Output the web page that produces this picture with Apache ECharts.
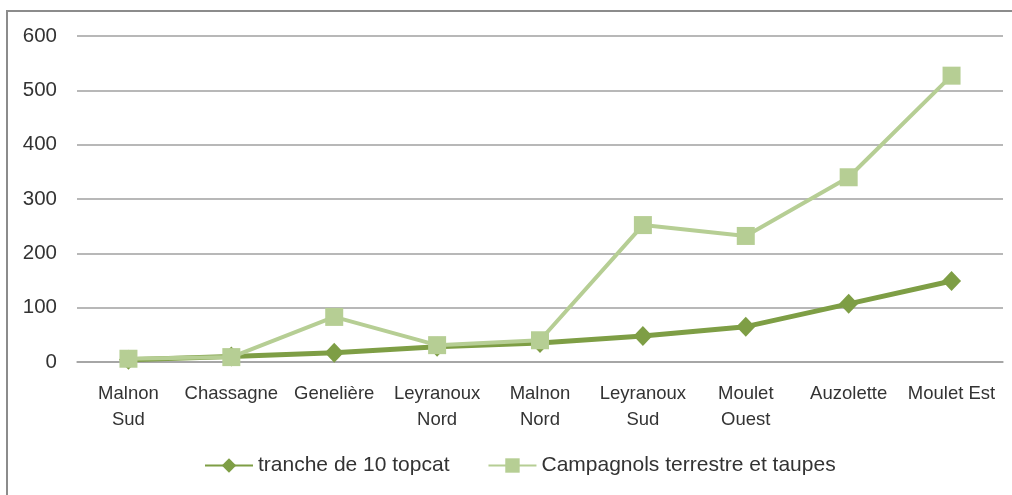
<!DOCTYPE html>
<html>
<head>
<meta charset="utf-8">
<script src="https://cdn.jsdelivr.net/npm/echarts@6/dist/echarts.min.js"></script>
<style>html,body{margin:0;padding:0;background:#fff;}#c{width:1012px;height:495px;}</style>
</head>
<body>
<div id="c"></div>
<script>
const categories = ['Malnon Sud', 'Chassagne', 'Genelière', 'Leyranoux Nord', 'Malnon Nord', 'Leyranoux Sud', 'Moulet Ouest', 'Auzolette', 'Moulet Est'];
const topcat = [4, 10, 17, 28, 35, 48, 65, 107, 149];
const campagnols = [6, 9, 83, 31, 40, 252, 232, 340, 527];
const yTicks = { min: 0, max: 600, interval: 100 };

const chart = echarts.init(document.getElementById('c'), null, { renderer: 'canvas' });
const font = 'Liberation Sans, Arial, sans-serif';
chart.setOption({
  animation: false,
  graphic: [{
    type: 'rect', shape: { x: 7, y: 11, width: 1020, height: 500 },
    style: { fill: 'none', stroke: '#8c8c8c', lineWidth: 2 }, silent: true, z: -1
  }],
  grid: { left: 77, right: 9, top: 36, bottom: 133, containLabel: false },
  legend: {
    bottom: 14, left: 199, itemWidth: 48, itemHeight: 18, itemGap: 38,
    textStyle: { fontFamily: font, fontSize: 21, color: '#333' },
    data: ['tranche de 10 topcat', 'Campagnols terrestre et taupes']
  },
  xAxis: {
    type: 'category', data: categories, boundaryGap: true,
    axisLine: { lineStyle: { color: '#a0a0a0', width: 1.5 } },
    axisTick: { show: false },
    axisLabel: {
      interval: 0, margin: 19, fontFamily: font, fontSize: 18.5, color: '#333', lineHeight: 26,
      formatter: v => v === 'Moulet Est' ? v : v.replace(' ', '\n')
    }
  },
  yAxis: {
    type: 'value', min: yTicks.min, max: yTicks.max, interval: yTicks.interval,
    axisLine: { show: false }, axisTick: { show: false },
    splitLine: { lineStyle: { color: '#a0a0a0', width: 1.5 } },
    axisLabel: { margin: 20, fontFamily: font, fontSize: 20.5, color: '#333' }
  },
  series: [
    {
      name: 'tranche de 10 topcat', type: 'line', data: topcat,
      symbol: 'diamond', symbolSize: [19, 20], z: 2,
      lineStyle: { color: '#7e9e45', width: 5 },
      itemStyle: { color: '#7e9e45' }
    },
    {
      name: 'Campagnols terrestre et taupes', type: 'line', data: campagnols,
      symbol: 'rect', symbolSize: 18, z: 3,
      lineStyle: { color: '#b6ce94', width: 4 },
      itemStyle: { color: '#b6ce94' }
    }
  ]
});
</script>
</body>
</html>
